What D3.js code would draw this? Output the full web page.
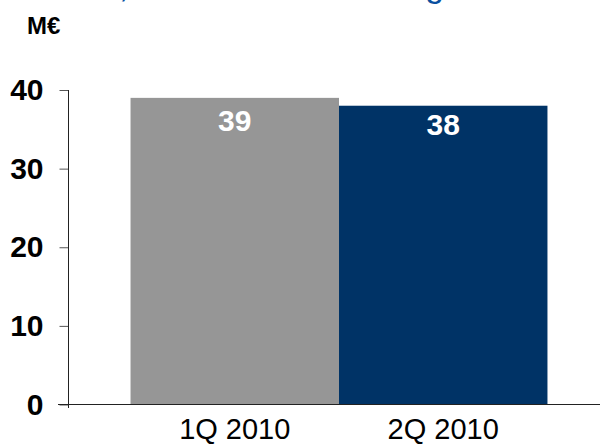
<!DOCTYPE html>
<html>
<head>
<meta charset="utf-8">
<script src="https://cdn.jsdelivr.net/npm/d3@7"></script>
<style>
  html, body { margin: 0; padding: 0; background: #fff; }
  svg { display: block; font-family: Arial, "Liberation Sans", sans-serif; }
</style>
</head>
<body>
<svg id="chart" width="600" height="445"></svg>
<script>
// Quarterly values, M€
const categories = ["1Q 2010", "2Q 2010"];
const values = [39, 38];
const barColors = ["#969696", "#003366"];
const yTicks = [0, 10, 20, 30, 40];
const unitLabel = "M€";
const title = "EBITDA, before non-recurring";

const svg = d3.select("#chart");

const x = d3.scaleBand()
  .domain(categories)
  .range([68, 610])
  .paddingInner(0)
  .paddingOuter(0.3);

const y = d3.scaleLinear()
  .domain([0, 40])
  .range([404.5, 90]);

// Title sits above the plot, mostly outside the visible area
svg.append("text")
  .attr("x", -3)
  .attr("y", -3)
  .attr("fill", "#0a4fa0")
  .attr("font-size", 33.8)
  .text(title);

svg.append("text")
  .attr("x", 27)
  .attr("y", 34)
  .attr("font-size", 24)
  .attr("font-weight", "bold")
  .attr("fill", "#000")
  .text(unitLabel);

// Bars
svg.append("g")
  .selectAll("rect")
  .data(categories)
  .join("rect")
  .attr("x", d => x(d))
  .attr("width", x.bandwidth())
  .attr("y", (d, i) => y(values[i]))
  .attr("height", (d, i) => y(0) - y(values[i]))
  .attr("fill", (d, i) => barColors[i]);

// Value labels near the top of each bar
const yTop = y(d3.max(values));
svg.append("g")
  .selectAll("text")
  .data(categories)
  .join("text")
  .attr("x", d => x(d) + x.bandwidth() / 2)
  .attr("y", (d, i) => (y(values[i]) + yTop) / 2 + 33)
  .attr("text-anchor", "middle")
  .attr("font-size", 30)
  .attr("font-weight", "bold")
  .attr("fill", "#fff")
  .text((d, i) => values[i]);

// Y axis
const yAxis = d3.axisLeft(y)
  .tickValues(yTicks)
  .tickSize(9)
  .tickPadding(16)
  .tickFormat(d3.format("d"));

const yg = svg.append("g")
  .attr("transform", "translate(68.5,0)")
  .call(yAxis);
yg.select(".domain").remove();
yg.selectAll(".tick line").attr("stroke", "#555");
yg.selectAll(".tick text")
  .attr("font-size", 30)
  .attr("font-weight", "bold")
  .attr("font-family", "Arial, 'Liberation Sans', sans-serif")
  .attr("fill", "#000");

svg.append("line")
  .attr("x1", 68.5).attr("x2", 68.5)
  .attr("y1", y(40)).attr("y2", 408)
  .attr("stroke", "#222").attr("stroke-width", 1);

// Baseline
svg.append("line")
  .attr("x1", 58).attr("x2", 600)
  .attr("y1", 404.5).attr("y2", 404.5)
  .attr("stroke", "#222").attr("stroke-width", 1);

// Category labels
svg.append("g")
  .selectAll("text")
  .data(categories)
  .join("text")
  .attr("x", d => x(d) + x.bandwidth() / 2)
  .attr("y", 438.5)
  .attr("text-anchor", "middle")
  .attr("font-size", 29)
  .attr("fill", "#000")
  .text(d => d);
</script>
</body>
</html>
